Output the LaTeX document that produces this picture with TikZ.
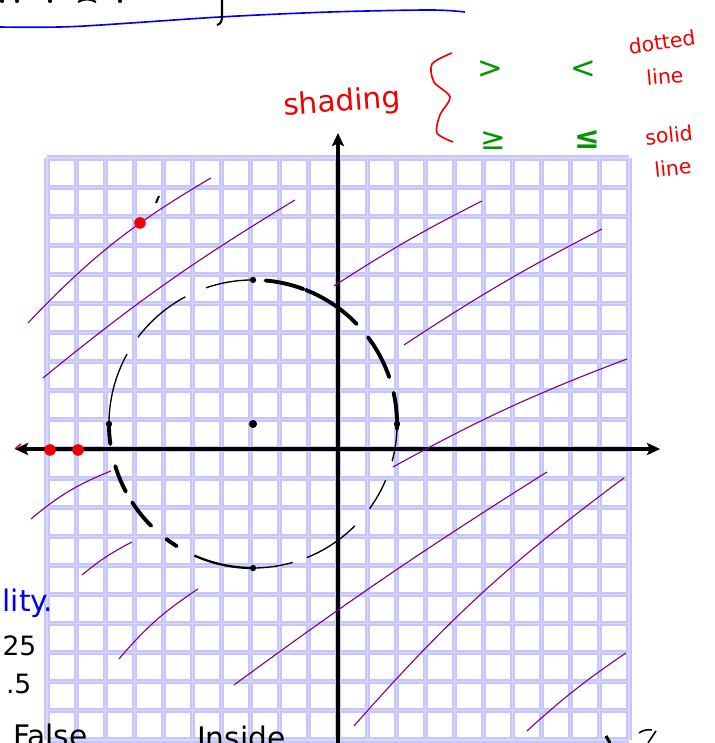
\documentclass[tikz,border=0pt]{standalone}
\usepackage{fontspec}
\setmainfont{DejaVu Sans}
\usetikzlibrary{arrows.meta,calc}

\definecolor{gridblue}{RGB}{198,198,252}
\definecolor{gridpale}{RGB}{216,216,255}
\definecolor{hatch}{RGB}{130,0,140}
\definecolor{inkred}{RGB}{240,0,0}
\definecolor{inkgreen}{RGB}{0,150,0}
\definecolor{inkblue}{RGB}{0,0,245}

\begin{document}
\begin{tikzpicture}[
  >={Stealth[length=13pt,width=12pt,inset=3pt]},
  gridline/.style={gridblue, line width=5pt},
  gridcore/.style={gridpale, line width=1pt},
  axis/.style={line width=3.2pt},
  thinpen/.style={line width=1.3pt},
  midpen/.style={line width=2.2pt},
  thickpen/.style={line width=3.8pt, line cap=round},
  hatchline/.style={hatch, line width=1.1pt},
  ptdot/.style={fill=black, circle, inner sep=2.2pt},
  reddot/.style={fill=inkred, circle, inner sep=4pt},
  ink/.style={font=\fontsize{29}{30}\selectfont},
  smallink/.style={font=\fontsize{20}{20}\selectfont},
  sign/.style={text=inkgreen, font=\fontsize{30}{30}\selectfont},
]
\useasboundingbox (-11.615,-10.103) rectangle (12.955,15.43);

% graph paper
\foreach \i in {-10,...,10} {
  \draw[gridline] (\i,-10) -- (\i,10);
  \draw[gridline] (-10,\i) -- (10,\i);
}
\foreach \i in {-10,...,10} {
  \draw[gridcore] (\i,-10) -- (\i,10);
  \draw[gridcore] (-10,\i) -- (10,\i);
}

% axes
\draw[axis,->] (0,-10.4) -- (0,10.86);
\draw[axis,<->] (-11.1,0) -- (11.07,0);

% circle, dashed by hand
\coordinate (c) at (-2.92,0.86);
\def\rad{4.95}
\foreach \a/\b in {91/109,118/143,151/180,269/286,292/315,324/337,345/357.5}
  \draw[thinpen] ($(c)+(\a:\rad)$) arc (\a:\b:\rad);
\foreach \a/\b in {-2/12.5,19/37,44/68.5,69.5/85,180/188,197/208,213/225,233/238}
  \draw[thickpen] ($(c)+(\a:\rad)$) arc (\a:\b:\rad);
\draw[midpen] ($(c)+(246:\rad)$) arc (246:269:\rad);
\node[ptdot, inner sep=2.8pt] (ctr) at (c) {};
\node[ptdot] (ptop) at ($(c)+(90:\rad)$) {};
\node[ptdot] (pleft) at ($(c)+(180:\rad)$) {};
\node[ptdot] (pright) at ($(c)+(0:\rad)$) {};
\node[ptdot] (pbot) at ($(c)+(270:\rad)$) {};

% hand strokes in page pixels
\begin{scope}[shift={(-11.615,15.43)}, x=0.03436cm, y=-0.03436cm]
  % shading lines
  \draw[hatchline] (28,323) to[bend left=8] (211,178);
  \draw[hatchline] (43,378) to[bend left=4] (295,200);
  \draw[hatchline] (334,286) to[bend left=3] (482,201);
  \draw[hatchline] (404,345) to[bend left=3] (602,229);
  \draw[hatchline] (393,467) to[bend left=4] (627,359);
  \draw[hatchline] (234,685) to[bend left=2] (547,472);
  \draw[hatchline] (354,726) to[bend left=6] (624,478);
  \draw[hatchline] (527,731) to[bend left=4] (626,653);
  \draw[hatchline] (31,519) to[bend left=9] (111,471);
  \draw[hatchline] (82,575) to[bend left=6] (132,542);
  \draw[hatchline] (119,659) to[bend left=8] (198,589);
  \draw[line width=2pt] (156,203) -- (159,196);
  % red marks
  \node[reddot] (r1) at (140,223) {};
  \node[reddot] (r2) at (50,450) {};
  \node[reddot] (r3) at (78,450) {};
  \draw[inkred, line width=1.5pt] (15,449) -- (21,444);
  % top of page
  \draw[inkblue, line width=1.6pt] plot[smooth] coordinates {(0,27) (75,26.5) (220,17) (330,12) (430,10) (465,12)};
  \draw[line width=2pt] (222,0) -- (222,17) to[out=-90,in=10] (217,25);
  \foreach \x in {2,17,50,120}
    \fill (\x,1) circle (2pt);
  \draw[line width=2pt] (78,2) to[bend left=30] (96,2);
  % notes
  \node[ink, text=inkred, rotate=4] (shade) at (342,103) {shading};
  \draw[inkred, line width=1.6pt] plot[smooth] coordinates {(452,53) (432,64) (434,82) (450,97) (440,115) (437,133) (453,142)};
  \node[sign] (gt) at (490,70) {>};
  \node[sign] (lt) at (583,70) {<};
  \node[sign] (ge) at (493,141) {≥};
  \node[sign, font=\bfseries\fontsize{30}{30}\selectfont] (le) at (587,140) {≤};
  \node[smallink, text=inkred, rotate=8, inner sep=0pt] (dotted) at (662,42) {dotted};
  \node[smallink, text=inkred, rotate=5, inner sep=0pt] (dline) at (665,76) {line};
  \node[smallink, text=inkred, rotate=6, inner sep=0pt] (solid) at (669,135) {solid};
  \node[smallink, text=inkred, rotate=6, inner sep=0pt] (sline) at (673,168) {line};
  \node[ink, text=inkblue, anchor=east] (lity) at (57,603) {lity.};
  \node[ink, anchor=east, font=\fontsize{26}{26}\selectfont] (n25) at (40,646) {25};
  \node[ink, anchor=east, font=\fontsize{26}{26}\selectfont] (n5) at (35,684) {.5};
  \node[ink, anchor=base west, inner sep=0pt] (false) at (13,747) {False};
  \node[ink, anchor=base west, inner sep=0pt] (inside) at (197,749) {Inside};
  \draw[line width=3pt] (606,736) -- (610,743);
  \draw[line width=1.5pt] (639,733) to[bend left=20] (652,730);
  \draw[line width=1.5pt] (656,731) -- (648,743);
\end{scope}
\end{tikzpicture}
\end{document}
